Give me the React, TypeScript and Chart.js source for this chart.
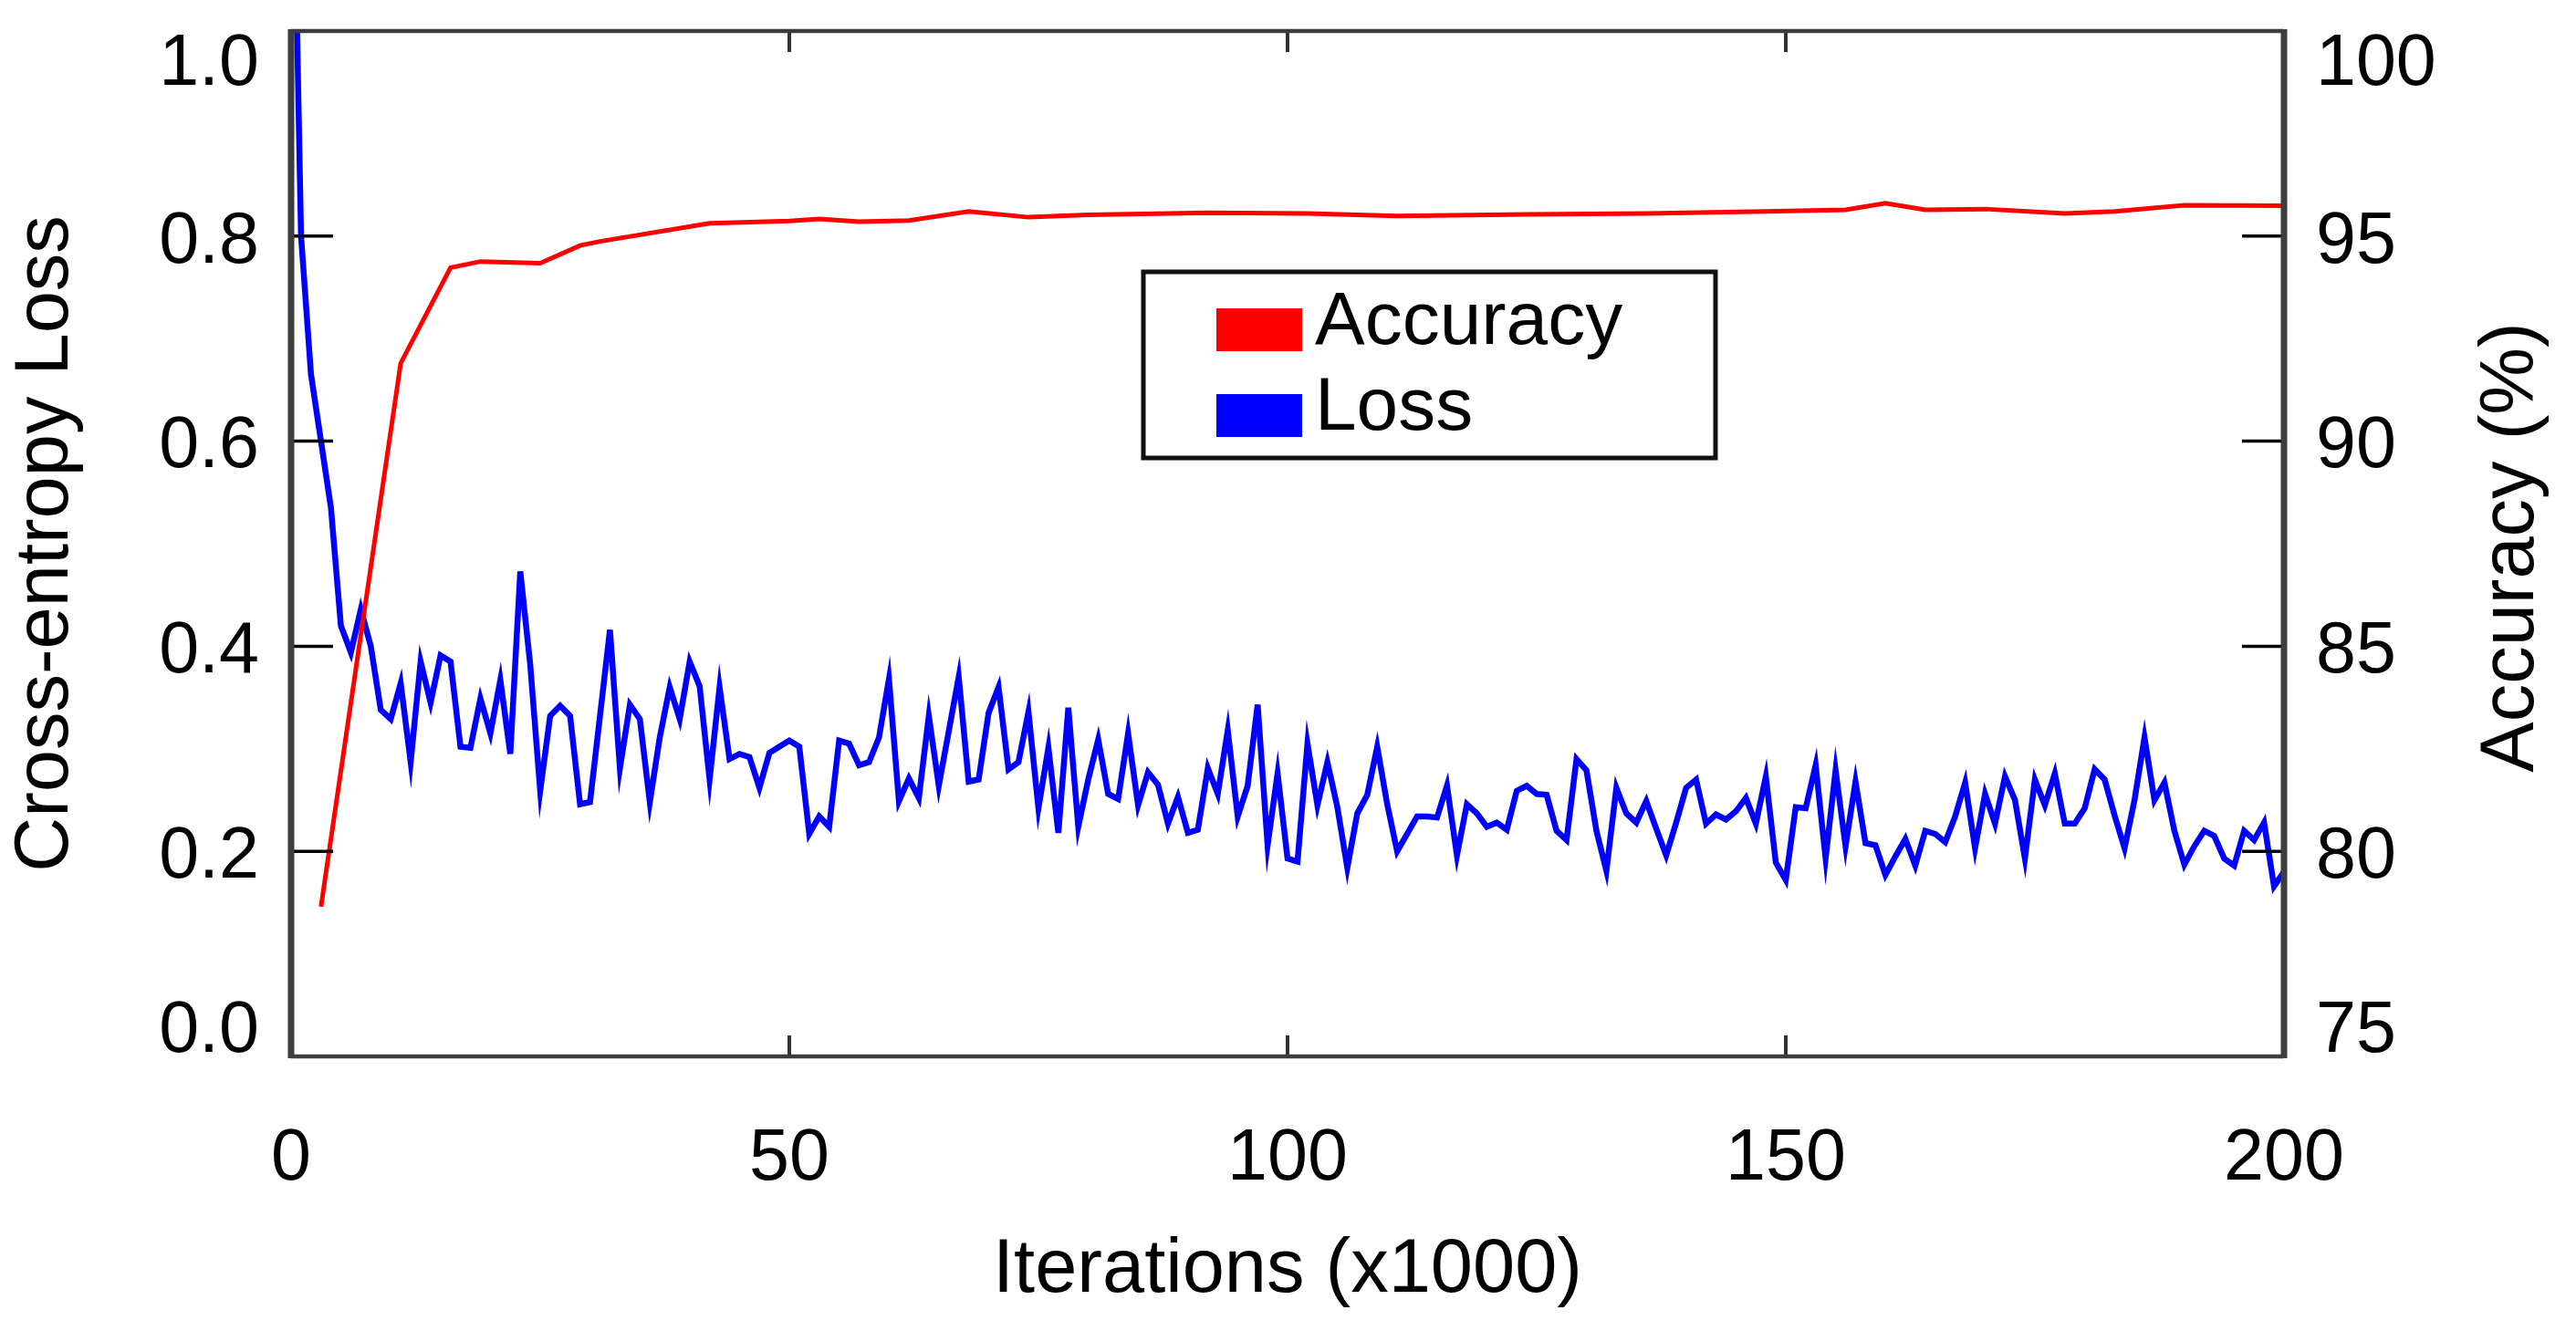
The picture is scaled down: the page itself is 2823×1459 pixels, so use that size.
import { useEffect, useRef } from 'react';
import { Chart, registerables } from 'chart.js';

Chart.register(...registerables);

const FONT = "'Liberation Sans', Arial, Helvetica, sans-serif";

// loss, one sample per 1000 iterations (x = 0 .. 200)
const lossValues = [
  1.3, 0.8, 0.665, 0.6, 0.535, 0.42, 0.394, 0.436, 0.4, 0.338,
  0.329, 0.364, 0.287, 0.385, 0.345, 0.391, 0.385, 0.302, 0.301, 0.349,
  0.315, 0.367, 0.295, 0.473, 0.382, 0.259, 0.332, 0.342, 0.332, 0.246,
  0.248, 0.332, 0.416, 0.281, 0.343, 0.329, 0.248, 0.311, 0.36, 0.329,
  0.385, 0.361, 0.27, 0.36, 0.29, 0.295, 0.292, 0.262, 0.296, 0.302,
  0.308, 0.302, 0.217, 0.234, 0.224, 0.308, 0.305, 0.284, 0.287, 0.311,
  0.368, 0.249, 0.271, 0.252, 0.332, 0.264, 0.317, 0.37, 0.268, 0.27,
  0.335, 0.36, 0.28, 0.287, 0.336, 0.242, 0.301, 0.218, 0.34, 0.224,
  0.27, 0.309, 0.256, 0.251, 0.315, 0.245, 0.277, 0.265, 0.227, 0.253,
  0.218, 0.221, 0.281, 0.256, 0.318, 0.234, 0.264, 0.343, 0.206, 0.276,
  0.193, 0.19, 0.305, 0.245, 0.287, 0.243, 0.184, 0.237, 0.255, 0.302,
  0.246, 0.2, 0.217, 0.234, 0.234, 0.233, 0.264, 0.196, 0.246, 0.237,
  0.224, 0.228, 0.221, 0.259, 0.264, 0.256, 0.255, 0.22, 0.211, 0.29,
  0.279, 0.22, 0.181, 0.262, 0.237, 0.228, 0.249, 0.222, 0.196, 0.228,
  0.262, 0.27, 0.227, 0.236, 0.231, 0.239, 0.252, 0.227, 0.273, 0.189,
  0.172, 0.243, 0.242, 0.284, 0.193, 0.279, 0.205, 0.268, 0.208, 0.206,
  0.177, 0.195, 0.212, 0.186, 0.22, 0.217, 0.209, 0.234, 0.267, 0.203,
  0.256, 0.227, 0.273, 0.25, 0.193, 0.27, 0.245, 0.276, 0.227, 0.227,
  0.242, 0.28, 0.27, 0.235, 0.203, 0.25, 0.311, 0.25, 0.267, 0.22,
  0.187, 0.205, 0.22, 0.215, 0.193, 0.186, 0.22, 0.211, 0.228, 0.166,
  0.18,
];

// accuracy test points
const accIters = [3, 11, 16, 19, 25, 29, 31, 42, 50, 53, 57, 62, 68, 74, 80, 92, 102, 111, 124, 136, 148, 156, 160, 164, 170, 178, 183, 190, 200];
const accValues = [78.65, 91.9, 94.23, 94.38, 94.34, 94.77, 94.87, 95.31, 95.37, 95.42, 95.35, 95.38, 95.6, 95.46, 95.52, 95.57, 95.55, 95.49, 95.53, 95.55, 95.6, 95.64, 95.8, 95.64, 95.66, 95.55, 95.6, 95.75, 95.74];

const xTicks = [0, 50, 100, 150, 200];
const lossTicks = [0, 0.2, 0.4, 0.6, 0.8, 1.0];
const accTicks = [75, 80, 85, 90, 95, 100];

const near = (a: number, b: number) => Math.abs(a - b) < 1e-9;

const framePlugin = {
  id: 'frame',
  afterDatasetsDraw(chart: any) {
    const { ctx, chartArea, scales } = chart;
    const { left, right, top, bottom } = chartArea;
    ctx.save();

    // inward ticks on the two value axes
    ctx.strokeStyle = '#000';
    ctx.lineWidth = 3.5;
    scales.y.ticks.forEach((t: any) => {
      if (near(t.value, 0) || near(t.value, 1)) return;
      const y = scales.y.getPixelForValue(t.value);
      ctx.beginPath();
      ctx.moveTo(left, y);
      ctx.lineTo(left + 46, y);
      ctx.stroke();
    });
    scales.y2.ticks.forEach((t: any) => {
      if (near(t.value, 75) || near(t.value, 100)) return;
      const y = scales.y2.getPixelForValue(t.value);
      ctx.beginPath();
      ctx.moveTo(right - 46, y);
      ctx.lineTo(right, y);
      ctx.stroke();
    });

    // short ticks on top and bottom edge
    ctx.strokeStyle = '#333';
    ctx.lineWidth = 4;
    scales.x.ticks.forEach((t: any) => {
      if (near(t.value, 0) || near(t.value, 200)) return;
      const x = scales.x.getPixelForValue(t.value);
      ctx.beginPath();
      ctx.moveTo(x, top);
      ctx.lineTo(x, top + 23);
      ctx.moveTo(x, bottom - 23);
      ctx.lineTo(x, bottom);
      ctx.stroke();
    });

    // frame: thin top/bottom, thick sides
    ctx.strokeStyle = '#3d3d3d';
    ctx.lineWidth = 4.5;
    ctx.beginPath();
    ctx.moveTo(left, top);
    ctx.lineTo(right, top);
    ctx.moveTo(left, bottom);
    ctx.lineTo(right, bottom);
    ctx.stroke();
    ctx.lineWidth = 7;
    ctx.beginPath();
    ctx.moveTo(left, top - 2);
    ctx.lineTo(left, bottom + 2);
    ctx.moveTo(right, top - 2);
    ctx.lineTo(right, bottom + 2);
    ctx.stroke();
    ctx.restore();
  },
  afterDraw(chart: any) {
    const { ctx, chartArea } = chart;
    ctx.save();

    // legend box inside the plot
    const bx = 1253, by = 298, bw = 627, bh = 204;
    ctx.fillStyle = '#fff';
    ctx.fillRect(bx, by, bw, bh);
    ctx.strokeStyle = '#111';
    ctx.lineWidth = 5;
    ctx.strokeRect(bx, by, bw, bh);
    ctx.font = `82px ${FONT}`;
    ctx.textAlign = 'left';
    ctx.textBaseline = 'alphabetic';
    chart.data.datasets.forEach((ds: any, i: number) => {
      const rowY = by + 40 + i * 94;
      ctx.fillStyle = ds.borderColor;
      ctx.fillRect(bx + 80, rowY, 94, 47);
      ctx.fillStyle = '#000';
      ctx.fillText(ds.label, bx + 188, rowY + 39);
    });

    // right axis title, reading bottom to top like the left one
    ctx.translate(chart.width - 70, (chartArea.top + chartArea.bottom) / 2 + 4);
    ctx.rotate(-Math.PI / 2);
    ctx.textAlign = 'center';
    ctx.textBaseline = 'middle';
    ctx.font = `83px ${FONT}`;
    ctx.fillStyle = '#000';
    ctx.fillText('Accuracy (%)', 0, 0);
    ctx.restore();
  },
};

const App = () => {
  const canvasRef = useRef<HTMLCanvasElement | null>(null);
  const chartRef = useRef<Chart | null>(null);

  useEffect(() => {
    document.body.style.margin = '0';
    const ctx = canvasRef.current?.getContext('2d');
    if (!ctx) return;

    if (chartRef.current) {
      chartRef.current.destroy();
    }

    Chart.defaults.font.family = FONT;
    Chart.defaults.color = '#000';

    chartRef.current = new Chart(ctx, {
      type: 'line',
      data: {
        datasets: [
          {
            label: 'Accuracy',
            yAxisID: 'y2',
            data: accIters.map((x, i) => ({ x, y: accValues[i] })),
            borderColor: '#ff0000',
            backgroundColor: '#ff0000',
            borderWidth: 5,
            pointRadius: 0,
            tension: 0,
          },
          {
            label: 'Loss',
            yAxisID: 'y',
            data: lossValues.map((y, i) => ({ x: i, y })),
            borderColor: '#0000ff',
            backgroundColor: '#0000ff',
            borderWidth: 6.5,
            pointRadius: 0,
            tension: 0,
          },
        ],
      },
      options: {
        responsive: false,
        animation: false,
        events: [],
        layout: { padding: { top: 34, left: 0, right: 0, bottom: 0 } },
        plugins: {
          legend: { display: false },
          tooltip: { enabled: false },
        },
        scales: {
          x: {
            type: 'linear',
            position: 'bottom',
            min: 0,
            max: 200,
            afterBuildTicks: (s: any) => {
              s.ticks = xTicks.map((value) => ({ value }));
            },
            afterFit: (s: any) => {
              s.height = 301;
              s.paddingLeft = 0;
              s.paddingRight = 0;
            },
            grid: { display: false, drawTicks: false },
            border: { display: false },
            ticks: { padding: 66, font: { size: 79 }, color: '#000', maxRotation: 0, autoSkip: false },
            title: {
              display: true,
              text: 'Iterations (x1000)',
              font: { size: 83 },
              color: '#000',
              padding: { top: 0, bottom: 16 },
            },
          },
          y: {
            type: 'linear',
            position: 'left',
            min: 0,
            max: 1,
            afterBuildTicks: (s: any) => {
              s.ticks = lossTicks.map((value) => ({ value }));
            },
            afterFit: (s: any) => {
              s.width = 319;
              s.paddingTop = 0;
              s.paddingBottom = 0;
            },
            grid: { display: false, drawTicks: false },
            border: { display: false },
            ticks: {
              padding: 35,
              labelOffset: 7,
              color: '#000',
              font: (c: any) => ({
                size: 79,
                lineHeight: c.tick && near(c.tick.value, 1) ? '60px' : c.tick && near(c.tick.value, 0) ? '68px' : 1.2,
              }),
              callback: (v: any) => {
                const n = Number(v);
                if (near(n, 1)) return ['', '1.0'];
                if (near(n, 0)) return ['0.0', ''];
                return n.toFixed(1);
              },
            },
            title: {
              display: true,
              text: 'Cross-entropy Loss',
              font: { size: 83 },
              color: '#000',
              padding: { top: 1, bottom: 0 },
            },
          },
          y2: {
            type: 'linear',
            position: 'right',
            min: 75,
            max: 100,
            afterBuildTicks: (s: any) => {
              s.ticks = accTicks.map((value) => ({ value }));
            },
            afterFit: (s: any) => {
              s.width = 320;
              s.paddingTop = 0;
              s.paddingBottom = 0;
            },
            grid: { display: false, drawTicks: false },
            border: { display: false },
            ticks: {
              padding: 35,
              labelOffset: 7,
              color: '#000',
              font: (c: any) => ({
                size: 79,
                lineHeight: c.tick && near(c.tick.value, 100) ? '60px' : c.tick && near(c.tick.value, 75) ? '68px' : 1.2,
              }),
              callback: (v: any) => {
                const n = Number(v);
                if (near(n, 100)) return ['', '100'];
                if (near(n, 75)) return ['75', ''];
                return String(n);
              },
            },
          },
        },
      },
      plugins: [framePlugin],
    });

    return () => {
      if (chartRef.current) {
        chartRef.current.destroy();
        chartRef.current = null;
      }
    };
  }, []);

  return <canvas ref={canvasRef} width={2823} height={1459} style={{ display: 'block' }} />;
};

export default App;
